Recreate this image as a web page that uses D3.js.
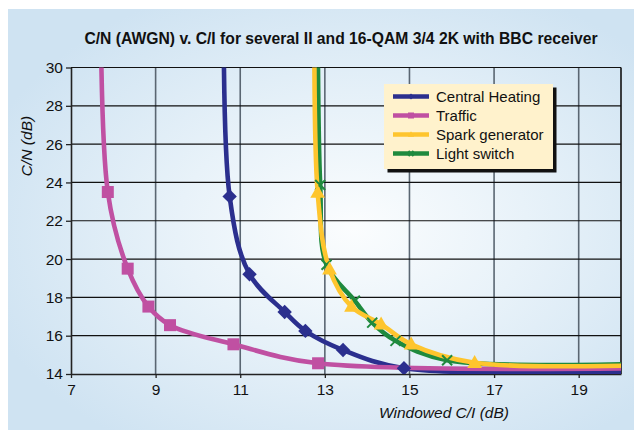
<!DOCTYPE html>
<html>
<head>
<meta charset="UTF-8" />
<script src="https://d3js.org/d3.v7.min.js"></script>
<style>
body { margin: 0; background: #fff; }
text { font-family: Arial, "Liberation Sans", sans-serif; fill: #111; }
</style>
</head>
<body>
<svg id="chart" width="634" height="430"></svg>
<script>
// data (points beyond the axis range are clipped, as in the original)
const seriesNames = ["Central Heating", "Traffic", "Spark generator", "Light switch"];
const heatingCI = [10.63, 10.75, 11.22, 12.05, 12.54, 13.43, 14.87, 21];
const heatingCN = [40, 23.27, 19.21, 17.24, 16.25, 15.25, 14.3, 14.18];
const trafficCI = [7.7, 7.87, 8.34, 8.83, 9.34, 10.84, 12.84, 21];
const trafficCN = [40, 23.5, 19.5, 17.52, 16.55, 15.55, 14.56, 14.32];
const sparkCI = [12.77, 12.83, 13.11, 13.63, 14.33, 15.04, 16.54, 21];
const sparkCN = [40, 23.48, 19.47, 17.52, 16.6, 15.55, 14.59, 14.49];
const switchCI = [12.83, 12.89, 13.04, 13.71, 14.12, 14.67, 15.89, 21];
const switchCN = [40, 23.87, 19.7, 17.82, 16.68, 15.73, 14.72, 14.57];
const xTicks = [7, 9, 11, 13, 15, 17, 19];
const yTicks = [14, 16, 18, 20, 22, 24, 26, 28, 30];

const svg = d3.select("#chart");
const W = 634, H = 430;
const plot = {left: 71, right: 621, top: 67.5, bottom: 374};

let defs = svg.append("defs");
let grad = defs.append("radialGradient").attr("id", "bg")
    .attr("cx", "0.55").attr("cy", "0.52").attr("r", "0.62");
grad.append("stop").attr("offset", "0").attr("stop-color", "#fbfdfe");
grad.append("stop").attr("offset", "0.45").attr("stop-color", "#e8f2f9");
grad.append("stop").attr("offset", "1").attr("stop-color", "#cfe3f2");
defs.append("clipPath").attr("id", "clip").append("rect")
    .attr("x", plot.left).attr("y", plot.top)
    .attr("width", plot.right - plot.left).attr("height", plot.bottom - plot.top);

// background panel
svg.append("rect").attr("x", 8).attr("y", 9).attr("width", W - 8).attr("height", H - 9)
    .attr("fill", "url(#bg)");

let x = d3.scaleLinear().domain([7, 20]).range([plot.left, plot.right]);
let y = d3.scaleLinear().domain([14, 30]).range([plot.bottom, plot.top]);

// grid
svg.append("g").selectAll("line").data(xTicks.slice(1)).join("line")
    .attr("x1", d => x(d)).attr("x2", d => x(d))
    .attr("y1", plot.top).attr("y2", plot.bottom)
    .attr("stroke", "#5a6672").attr("stroke-width", 1.6);
svg.append("g").selectAll("line").data(yTicks.slice(1)).join("line")
    .attr("x1", plot.left).attr("x2", plot.right)
    .attr("y1", d => y(d)).attr("y2", d => y(d))
    .attr("stroke", "#111").attr("stroke-width", 1.2);
svg.append("line").attr("x1", plot.right).attr("x2", plot.right)
    .attr("y1", plot.top).attr("y2", plot.bottom)
    .attr("stroke", "#111").attr("stroke-width", 1.6);

// axes
let xAxis = svg.append("g").attr("transform", `translate(0,${plot.bottom})`)
    .call(d3.axisBottom(x).tickValues(xTicks).tickSize(4).tickPadding(4).tickSizeOuter(0));
let yAxis = svg.append("g").attr("transform", `translate(${plot.left},0)`)
    .call(d3.axisLeft(y).tickValues(yTicks).tickSize(5).tickPadding(3).tickSizeOuter(0));
[xAxis, yAxis].forEach(a => {
    a.select(".domain").attr("stroke", "#222").attr("stroke-width", 1.6);
    a.selectAll(".tick line").attr("stroke", "#222").attr("stroke-width", 1.3);
    a.selectAll("text").attr("font-size", 15.5).attr("font-family", "Arial, 'Liberation Sans', sans-serif").attr("fill", "#111");
});
xAxis.selectAll("text").attr("dy", "0.85em");

// titles
svg.append("text").attr("x", 341).attr("y", 43.5).attr("text-anchor", "middle")
    .attr("font-size", 15.7).attr("font-weight", "bold").text("C/N (AWGN) v. C/I for several II and 16-QAM 3/4 2K with BBC receiver");
svg.append("text").attr("transform", "translate(32,146) rotate(-90)").attr("text-anchor", "middle")
    .attr("font-size", 15.5).attr("font-style", "italic").text("C/N (dB)");
svg.append("text").attr("x", 444).attr("y", 418).attr("text-anchor", "middle")
    .attr("font-size", 15.5).attr("font-style", "italic").text("Windowed C/I (dB)");

// markers
const markers = {
    diamond: (g, s, c) => g.append("path").attr("d", `M0,${-s}L${s},0L0,${s}L${-s},0Z`).attr("fill", c),
    square: (g, s, c) => g.append("rect").attr("x", -s).attr("y", -s).attr("width", 2 * s).attr("height", 2 * s).attr("fill", c),
    triangle: (g, s, c) => g.append("path").attr("d", `M0,${-s * 1.1}L${s * 1.05},${s * 0.75}L${-s * 1.05},${s * 0.75}Z`).attr("fill", c),
    cross: (g, s, c) => g.append("path").attr("d", `M${-s},${-s}L${s},${s}M${s},${-s}L${-s},${s}`)
        .attr("stroke", c).attr("stroke-width", 2).attr("fill", "none")
};

const series = [
    {name: seriesNames[0], ci: heatingCI, cn: heatingCN, color: "#2b2f8e", marker: "diamond", size: 7.2},
    {name: seriesNames[1], ci: trafficCI, cn: trafficCN, color: "#c050a2", marker: "square", size: 6},
    {name: seriesNames[3], ci: switchCI, cn: switchCN, color: "#1f8a3e", marker: "cross", size: 5},
    {name: seriesNames[2], ci: sparkCI, cn: sparkCN, color: "#fec52e", marker: "triangle", size: 7}
];

let line = d3.line().x(d => x(d[0])).y(d => y(d[1])).curve(d3.curveCatmullRom.alpha(0.5));
let plotG = svg.append("g").attr("clip-path", "url(#clip)");

series.forEach(s => {
    let pts = s.ci.map((c, i) => [c, s.cn[i]]);
    plotG.append("path").datum(pts).attr("d", line)
        .attr("fill", "none").attr("stroke", s.color).attr("stroke-width", 4.6)
        .attr("stroke-linejoin", "round");
});
series.forEach(s => {
    s.ci.forEach((c, i) => {
        let g = plotG.append("g").attr("transform", `translate(${x(c)},${y(s.cn[i])})`);
        markers[s.marker](g, s.size, s.color);
    });
});

// legend
let legend = svg.append("g").attr("transform", "translate(384,84)");
legend.append("rect").attr("x", 3.5).attr("y", 3.5).attr("width", 169).attr("height", 85).attr("fill", "#111");
legend.append("rect").attr("width", 169).attr("height", 85).attr("fill", "#fff2cc");
const legendOrder = [0, 1, 3, 2];
legendOrder.forEach((si, i) => {
    let s = series[si];
    let gy = 12.5 + i * 19;
    legend.append("line").attr("x1", 9).attr("x2", 45).attr("y1", gy).attr("y2", gy)
        .attr("stroke", s.color).attr("stroke-width", 4.6);
    let g = legend.append("g").attr("transform", `translate(27,${gy})`);
    markers[s.marker](g, s.marker === "cross" ? 2.5 : 3, s.color);
    legend.append("text").attr("x", 52).attr("y", gy).attr("dy", "0.35em")
        .attr("font-size", 15).text(s.name);
});
</script>
</body>
</html>
